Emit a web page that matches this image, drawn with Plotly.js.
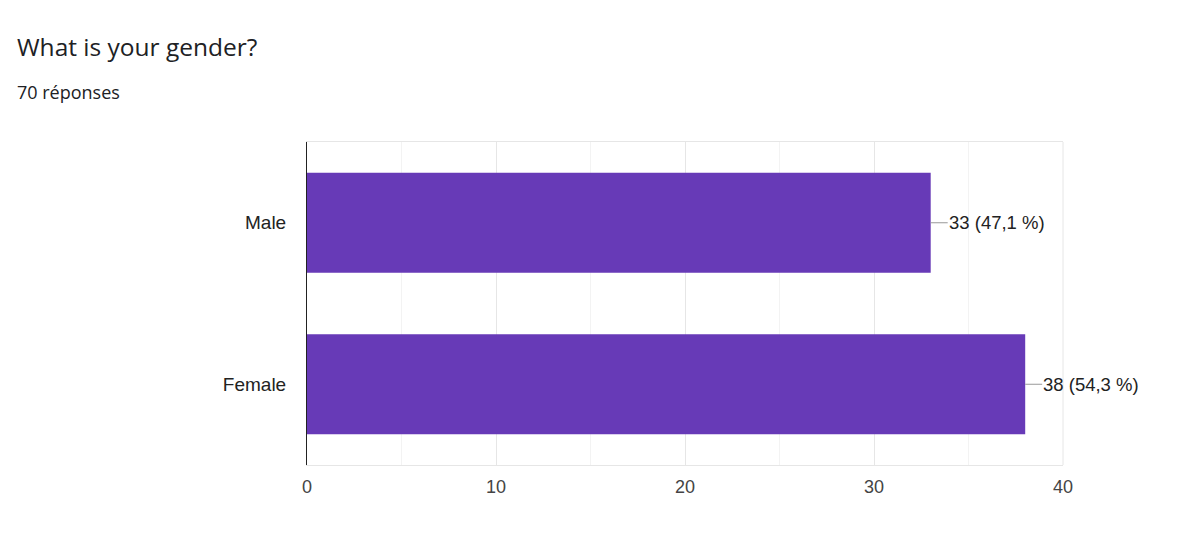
<!DOCTYPE html>
<html>
<head>
<meta charset="utf-8">
<script src="https://cdn.plot.ly/plotly-3.0.1.min.js"></script>
<style>html,body{margin:0;padding:0;background:#fff;}#chart{width:1179px;height:548px;}</style>
</head>
<body>
<div id="chart"></div>
<script>
const categories = ['Male', 'Female'];
const counts = [33, 38];
const valueLabels = ['33 (47,1 %)', '38 (54,3 %)'];
const xTicks = [0, 10, 20, 30, 40];
const titleText = 'What is your gender?';
const subtitleText = '70 réponses';

const W = 1179, H = 548;
const L = 307, R = 116, T = 142, B = 83;
const pw = W - L - R, ph = H - T - B;
const px2paperX = x => (x - L) / pw;
const py2paperY = y => (H - B - y) / ph;
const baseFont = 'Liberation Sans, Arial, sans-serif';

const trace = {
  type: 'bar',
  orientation: 'h',
  x: counts,
  y: categories,
  marker: {color: '#673ab7'},
  width: 0.62,
  hoverinfo: 'none'
};

const annotations = categories.map((c, i) => ({
  x: counts[i], y: c, xref: 'x', yref: 'y',
  text: valueLabels[i],
  showarrow: true, arrowhead: 0, arrowwidth: 1, arrowcolor: '#999',
  ax: 17, ay: 0, xanchor: 'left', yanchor: 'middle',
  font: {family: baseFont, size: 18.5, color: '#222'},
  borderpad: 0
}));

annotations.push({
  xref: 'paper', yref: 'paper', x: px2paperX(15), y: py2paperY(47),
  xanchor: 'left', yanchor: 'middle', showarrow: false,
  text: titleText,
  font: {family: '"Open Sans", Roboto, sans-serif', size: 24.5, color: '#202124'}
});
annotations.push({
  xref: 'paper', yref: 'paper', x: px2paperX(15), y: py2paperY(92),
  xanchor: 'left', yanchor: 'middle', showarrow: false,
  text: subtitleText,
  font: {family: '"Open Sans", Roboto, sans-serif', size: 18, color: '#202124'}
});

const layout = {
  width: W, height: H,
  margin: {l: L, r: R, t: T, b: B, pad: 0},
  paper_bgcolor: '#fff', plot_bgcolor: '#fff',
  showlegend: false,
  bargap: 0.38,
  font: {family: baseFont, size: 18, color: '#222'},
  xaxis: {
    range: [0, 40], tickvals: xTicks, ticktext: xTicks.map(String),
    showgrid: true, gridcolor: '#e6e6e6', gridwidth: 1,
    minor: {dtick: 5, tick0: 0, showgrid: true, gridcolor: '#f3f3f3', gridwidth: 1},
    zeroline: false,
    showline: true, mirror: true, linecolor: '#e6e6e6', linewidth: 1,
    ticks: '', ticklabelstandoff: 5,
    tickfont: {family: baseFont, size: 18, color: '#444'},
    fixedrange: true
  },
  yaxis: {
    categoryorder: 'array', categoryarray: categories, autorange: 'reversed',
    showgrid: false, zeroline: false,
    showline: true, linecolor: '#222', linewidth: 1,
    ticks: '', ticklabelstandoff: 16,
    tickfont: {family: baseFont, size: 19, color: '#222'},
    fixedrange: true
  },
  shapes: [{
    type: 'line', xref: 'paper', yref: 'paper', x0: 1, x1: 1, y0: 0, y1: 1,
    line: {color: '#e6e6e6', width: 1}, layer: 'below'
  }],
  annotations: annotations
};

Plotly.newPlot('chart', [trace], layout, {displayModeBar: false, staticPlot: true});
</script>
</body>
</html>
